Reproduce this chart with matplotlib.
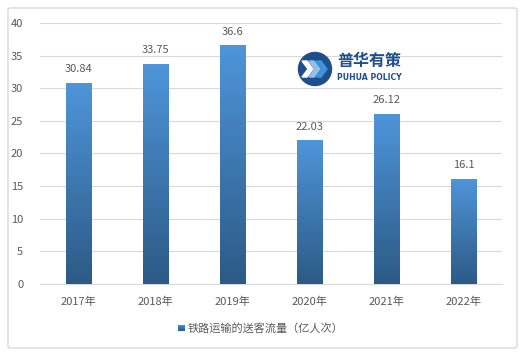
import numpy as np
import matplotlib.pyplot as plt
from matplotlib.patches import FancyBboxPatch, Circle, Polygon
from matplotlib.colors import LinearSegmentedColormap

plt.rcParams['font.family'] = ['Noto Sans CJK SC', 'DejaVu Sans']

years = ['2017年', '2018年', '2019年', '2020年', '2021年', '2022年']
passengers = [30.84, 33.75, 36.6, 22.03, 26.12, 16.1]
value_labels = ['30.84', '33.75', '36.6', '22.03', '26.12', '16.1']
legend_label = '铁路运输的送客流量（亿人次）'

text_color = '#595959'
grad = LinearSegmentedColormap.from_list('bar', ['#2C5A85', '#4F95DA'])

fig = plt.figure(figsize=(5.22, 3.55), dpi=100)
# outer rounded border
fig.patches.append(FancyBboxPatch((8 / 522, 7 / 355), 509 / 522, 340 / 355,
                                  boxstyle='round,pad=0,rounding_size=0.005',
                                  transform=fig.transFigure, fill=False,
                                  edgecolor='#D9D9D9', linewidth=1))

ax = fig.add_axes([40 / 522, 71 / 355, 462 / 522, 261 / 355])
x = np.arange(len(years))
bars = ax.bar(x, passengers, width=0.33, color='none', zorder=3)

gradient = np.linspace(0, 1, 256).reshape(-1, 1)
for i, b in enumerate(bars):
    x0, w, h = b.get_x(), b.get_width(), b.get_height()
    im = ax.imshow(gradient, cmap=grad, aspect='auto', origin='lower',
                   extent=(x0, x0 + w, 0, h), zorder=3)
    im.set_clip_path(b)
    ax.text(x0 + w / 2, h + 1.3, value_labels[i],
            ha='center', va='bottom', fontsize=8, color=text_color)

ax.set_xlim(-0.5, len(years) - 0.5)
ax.set_ylim(0, 40)
ax.set_yticks(range(0, 41, 5))
ax.set_xticks(x)
ax.set_xticklabels(years)
ax.grid(axis='y', color='#D9D9D9', linewidth=0.8, zorder=0)
for s in ['top', 'right', 'left']:
    ax.spines[s].set_visible(False)
ax.spines['bottom'].set_color('#D9D9D9')
ax.tick_params(axis='both', length=0, labelsize=8, colors=text_color)
ax.tick_params(axis='x', pad=9)
ax.tick_params(axis='y', pad=12)

# legend
lx, ly = 178 / 522, 27 / 355
sq = fig.add_axes([lx, ly - 3.5 / 355, 7 / 522, 7 / 355])
sq.imshow(gradient, cmap=grad, aspect='auto', origin='lower')
sq.axis('off')
fig.text(lx + 10 / 522, ly, legend_label, fontsize=8, color=text_color, va='center')

# watermark logo (pixel box x 290..405, y 47..92)
lax = fig.add_axes([290 / 522, (355 - 92) / 355, 115 / 522, 45 / 355])
lax.set_xlim(0, 115)
lax.set_ylim(0, 45)
lax.axis('off')
lax.add_patch(Circle((25, 23), 16.5, color='#1F4E8C'))
for dx, c in [(0, '#FFFFFF'), (7, '#8FC3EA'), (14, '#3F95DA')]:
    lax.add_patch(Polygon([(12 + dx, 31), (17 + dx, 31), (23 + dx, 23), (17 + dx, 15),
                           (12 + dx, 15), (18 + dx, 23)], closed=True, color=c))
lax.text(47, 31, '普华有策', fontsize=11.5, fontweight='bold', color='#1F4E8C', va='center')
lax.text(47, 14, 'PUHUA POLICY', fontsize=5.6, fontweight='bold', color='#1F4E8C',
         va='center', family='DejaVu Sans')

fig.savefig('out.png', dpi=100)
